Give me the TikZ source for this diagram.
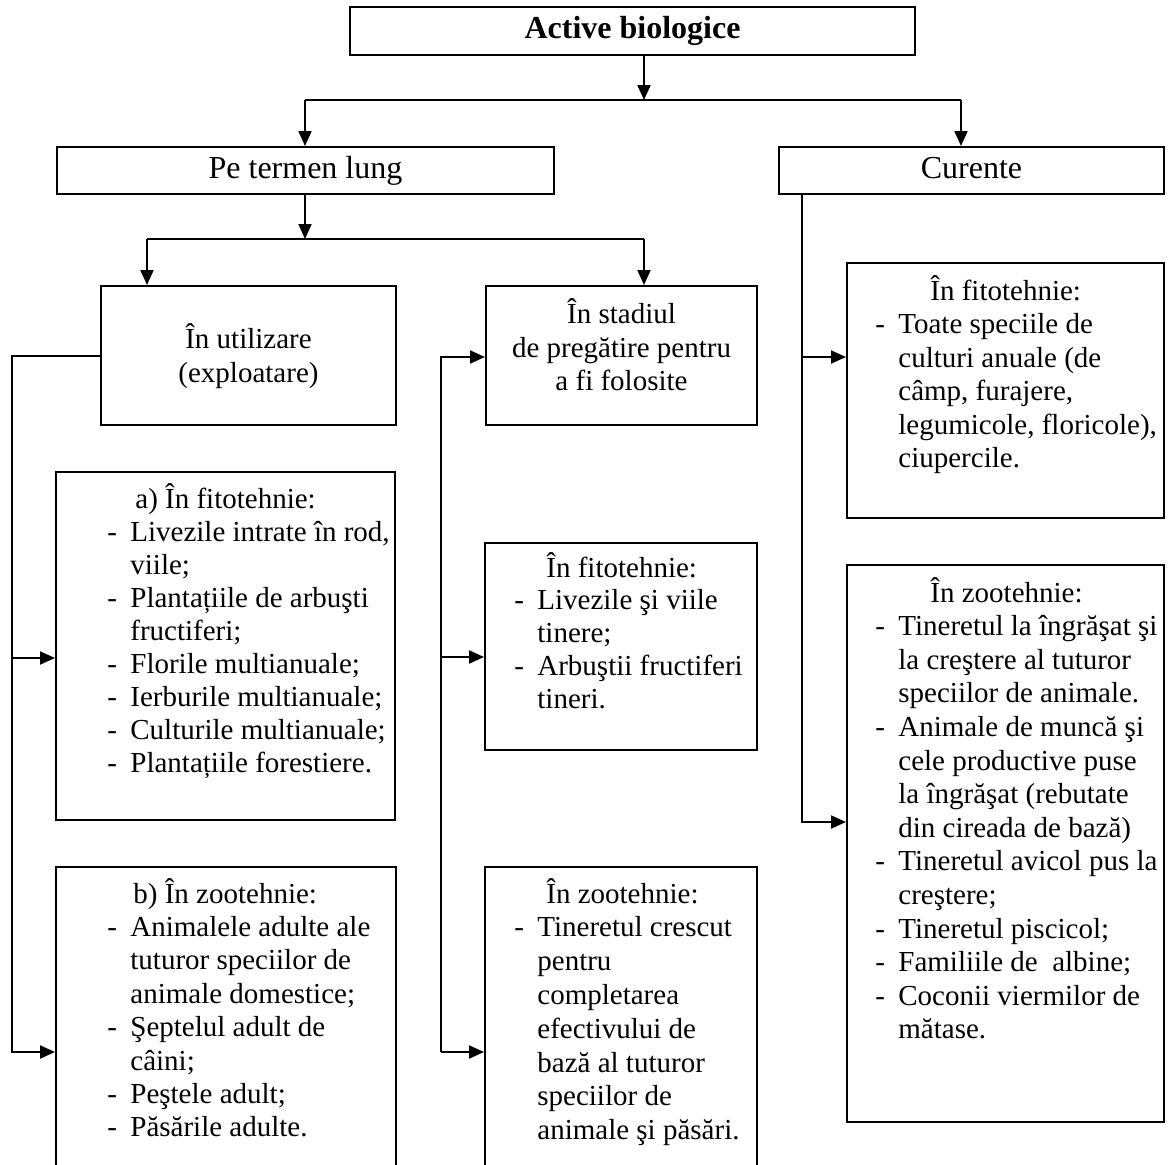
\documentclass[tikz,border=0pt]{standalone}
\usepackage{fontspec}
\setmainfont{Liberation Serif}
\usetikzlibrary{arrows.meta}
\newcommand\bodyf{\fontsize{14.5pt}{17pt}\selectfont}
\newcommand\headf{\fontsize{16pt}{19pt}\selectfont}
\newcommand\dl{\makebox[11.5pt][l]{-}}
\newcommand\cl{\hspace*{11.5pt}}
\tikzset{
  box/.style={draw, line width=1pt, inner sep=0pt, rectangle},
  arr/.style={line width=1pt, -{Triangle[length=7.5pt,width=6.5pt]}},
  ln/.style={line width=1pt},
  txt/.style={inner sep=0pt, font=\bodyf},
  hd/.style={inner sep=0pt, font=\headf, anchor=base},
  ttl/.style={inner sep=0pt, font=\headf\bfseries, anchor=base},
  ctr/.style={inner sep=0pt, font=\bodyf, anchor=base}
}
\newcommand\mkbox[5]{\node[box, minimum width={(#4-#2)*0.5pt}, minimum height={(#5-#3)*0.5pt}] (#1) at ({(#2+#4)/2},{(#3+#5)/2}) {};}
\newcommand\txtlines[5]{%
  \foreach \ltext [count=\i from 0] in {#5} {
    \node[txt, anchor=base west] (#1-\i) at (#2, {#3+\i*#4}) {\ltext};
  }}
\begin{document}
\begin{tikzpicture}[x=0.5pt, y=-0.5pt]
\useasboundingbox (0,0) rectangle (1168,1164);
\clip (0,0) rectangle (1168,1164);
% boxes
\mkbox{top}{350}{7}{915}{55}
\mkbox{ptl}{57}{147}{554}{194}
\mkbox{cur}{779}{147}{1164}{194}
\mkbox{util}{101}{286}{396}{425}
\mkbox{stad}{486}{286}{757}{425}
\mkbox{cfit}{847}{263}{1164}{518}
\mkbox{czoo}{847}{565}{1164}{1122}
\mkbox{afit}{56}{472}{395}{820}
\mkbox{bzoo}{56}{867}{396}{1220}
\mkbox{mfit}{485}{543}{757}{750}
\mkbox{mzoo}{485}{867}{757}{1220}
% headings
\node[ttl] (ttop) at (632.5,38) {Active biologice};
\node[hd] (tptl) at (305.5,178) {Pe termen lung};
\node[hd] (tcur) at (971.5,178) {Curente};
\node[ctr] (tu1) at (248.5,348) {În utilizare};
\node[ctr] (tu2) at (248.5,382) {(exploatare)};
\node[ctr] (ts1) at (621.5,323) {În stadiul};
\node[ctr] (ts2) at (621.5,357) {de pregătire pentru};
\node[ctr] (ts3) at (621.5,390) {a fi folosite};
% list texts
\txtlines{ta}{107}{508}{33}{{\hspace*{14pt}a) În fitotehnie:},{\dl Livezile intrate în rod,},{\cl viile;},{\dl Plantațiile de arbuşti},{\cl fructiferi;},{\dl Florile multianuale;},{\dl Ierburile multianuale;},{\dl Culturile multianuale;},{\dl Plantațiile forestiere.}}
\txtlines{tb}{107}{903}{33.4}{{\hspace*{13pt}b) În zootehnie:},{\dl Animalele adulte ale},{\cl tuturor speciilor de},{\cl animale domestice;},{\dl Şeptelul adult de},{\cl câini;},{\dl Peştele adult;},{\dl Păsările adulte.}}
\txtlines{tmf}{514}{577}{32.8}{{\hspace*{16pt}În fitotehnie:},{\dl Livezile şi viile},{\cl tinere;},{\dl Arbuştii fructiferi},{\cl tineri.}}
\txtlines{tmz}{514}{903}{33.8}{{\hspace*{16pt}În zootehnie:},{\dl Tineretul crescut},{\cl pentru},{\cl completarea},{\cl efectivului de},{\cl bază al tuturor},{\cl speciilor de},{\cl animale şi păsări.}}
\txtlines{tcf}{875}{300}{33.5}{{\hspace*{27.5pt}În fitotehnie:},{\dl Toate speciile de},{\cl culturi anuale (de},{\cl câmp, furajere,},{\cl legumicole, floricole),},{\cl ciupercile.}}
\txtlines{tcz}{875}{602}{33.6}{{\hspace*{27.5pt}În zootehnie:},{\dl Tineretul la îngrăşat şi},{\cl la creştere al tuturor},{\cl speciilor de animale.},{\dl Animale de muncă şi},{\cl cele productive puse},{\cl la îngrăşat (rebutate},{\cl din cireada de bază)},{\dl Tineretul avicol pus la},{\cl creştere;},{\dl Tineretul piscicol;},{\dl Familiile de\ \ albine;},{\dl Coconii viermilor de},{\cl mătase.}}
% connectors: level 1
\coordinate (b1) at (644,100);
\coordinate (b1l) at (305,100);
\coordinate (b1r) at (961,100);
\draw[arr] (top.south -| b1) -- (b1);
\draw[ln] (b1l) -- (b1r);
\draw[arr] (b1l) -- (ptl.north -| b1l);
\draw[arr] (b1r) -- (cur.north -| b1r);
% level 2
\coordinate (b2) at (305,239);
\coordinate (b2l) at (147,239);
\coordinate (b2r) at (644,239);
\draw[arr] (ptl.south -| b2) -- (b2);
\draw[ln] (b2l) -- (b2r);
\draw[arr] (b2l) -- (util.north -| b2l);
\draw[arr] (b2r) -- (stad.north -| b2r);
% left bus
\coordinate (lt) at (12,356);
\coordinate (la) at (12,658);
\coordinate (lb) at (12,1052);
\draw[arr] (util.west |- lt) -- (lt) -- (lb) -- (lb -| bzoo.west);
\draw[arr] (la) -- (la -| afit.west);
% middle bus
\coordinate (mt) at (441,357);
\coordinate (mm) at (441,657);
\coordinate (mb) at (441,1052);
\draw[arr] (mb) -- (mt) -- (mt -| stad.west);
\draw[arr] (mm) -- (mm -| mfit.west);
\draw[arr] (mb) -- (mb -| mzoo.west);
% right bus
\coordinate (rt) at (802,357);
\coordinate (rb) at (802,822);
\draw[arr] (cur.south -| rb) -- (rb) -- (rb -| czoo.west);
\draw[arr] (rt) -- (rt -| cfit.west);
\end{tikzpicture}
\end{document}
